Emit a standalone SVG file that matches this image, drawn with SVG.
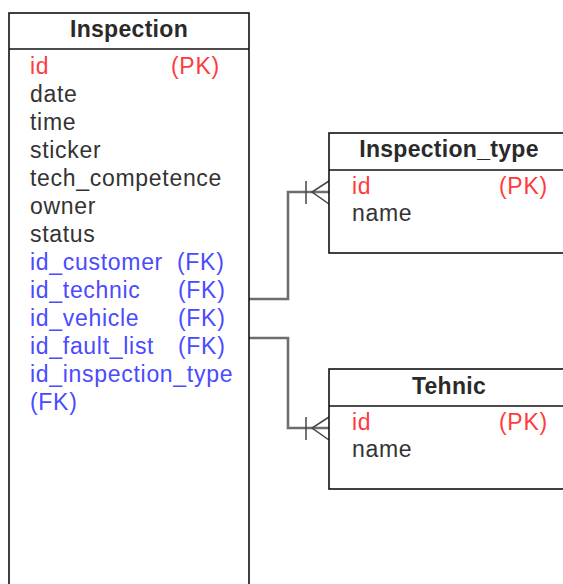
<svg xmlns="http://www.w3.org/2000/svg" width="563" height="584" viewBox="0 0 563 584">
  <style>
    .box { fill: #ffffff; stroke: #111111; stroke-width: 1.6; }
    .div { stroke: #111111; stroke-width: 1.6; }
    text { font-family: "Liberation Sans", Arial, sans-serif; font-size: 23px; letter-spacing: 0.7px; }
    .title { font-weight: bold; fill: #2a2a2a; text-anchor: middle; letter-spacing: 0.3px; }
    .pk { fill: #ff3b3b; }
    .fk { fill: #4a4aff; }
    .attr { fill: #333333; }
    .link { fill: none; stroke: #6e6e6e; stroke-width: 2.6; }
    .crow { fill: none; stroke: #444444; stroke-width: 1.5; }
  </style>

  <!-- connectors -->
  <g id="connectors">
    <polyline class="link" points="249,299 288,299 288,192 329,192"/>
    <line class="crow" x1="306" y1="181" x2="306" y2="204"/>
    <polyline class="crow" points="329,181 312,192 329,204"/>

    <polyline class="link" points="249,338 288,338 288,428 329,428"/>
    <line class="crow" x1="306" y1="417" x2="306" y2="440"/>
    <polyline class="crow" points="329,417 312,428 329,440"/>
  </g>

  <!-- Inspection table -->
  <g id="inspection">
    <rect class="box" x="9" y="13" width="240" height="600"/>
    <line class="div" x1="9" y1="49" x2="249" y2="49"/>
    <text class="title" x="129" y="37">Inspection</text>
    <text class="pk" x="30" y="74">id</text>
    <text class="pk" x="171" y="74">(PK)</text>
    <text class="attr" x="30" y="102">date</text>
    <text class="attr" x="30" y="130">time</text>
    <text class="attr" x="30" y="158">sticker</text>
    <text class="attr" x="30" y="186">tech_competence</text>
    <text class="attr" x="30" y="214">owner</text>
    <text class="attr" x="30" y="242">status</text>
    <text class="fk" x="30" y="270">id_customer</text>
    <text class="fk" x="177" y="270">(FK)</text>
    <text class="fk" x="30" y="298">id_technic</text>
    <text class="fk" x="178" y="298">(FK)</text>
    <text class="fk" x="30" y="326">id_vehicle</text>
    <text class="fk" x="178" y="326">(FK)</text>
    <text class="fk" x="30" y="354">id_fault_list</text>
    <text class="fk" x="178" y="354">(FK)</text>
    <text class="fk" x="30" y="382">id_inspection_type</text>
    <text class="fk" x="30" y="410">(FK)</text>
  </g>

  <!-- Inspection_type table -->
  <g id="inspection_type">
    <rect class="box" x="329" y="133" width="240" height="120"/>
    <line class="div" x1="329" y1="170" x2="569" y2="170"/>
    <text class="title" x="449" y="157">Inspection_type</text>
    <text class="pk" x="352" y="194">id</text>
    <text class="pk" x="499" y="194">(PK)</text>
    <text class="attr" x="352" y="221">name</text>
  </g>

  <!-- Tehnic table -->
  <g id="tehnic">
    <rect class="box" x="329" y="369" width="240" height="120"/>
    <line class="div" x1="329" y1="406" x2="569" y2="406"/>
    <text class="title" x="449" y="394">Tehnic</text>
    <text class="pk" x="352" y="430">id</text>
    <text class="pk" x="499" y="430">(PK)</text>
    <text class="attr" x="352" y="457">name</text>
  </g>
</svg>
